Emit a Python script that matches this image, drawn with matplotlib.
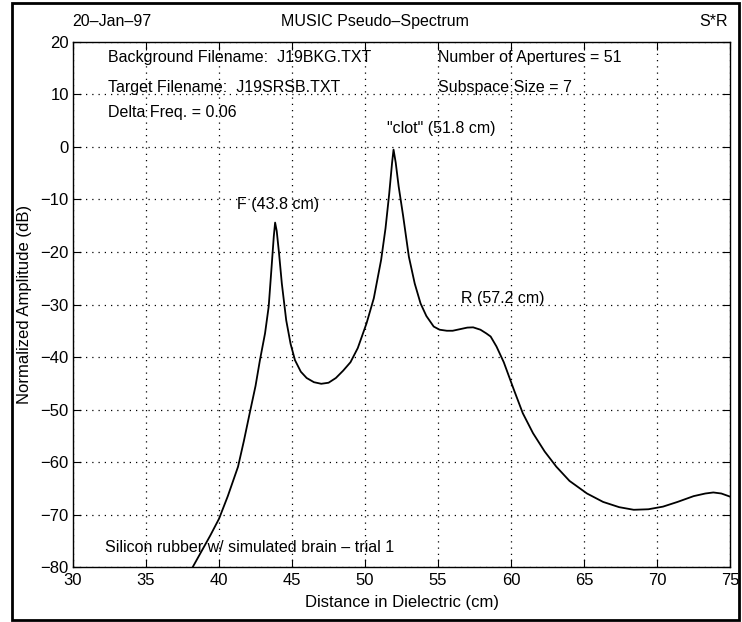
import matplotlib
matplotlib.use('Agg')
import matplotlib.pyplot as plt
from matplotlib.patches import Rectangle

# values
distance = [38.2, 38.8, 39.4, 40.0, 40.6, 41.3, 41.7, 42.1, 42.5, 42.8, 43.15, 43.4, 43.6, 43.75, 43.84,
            43.95, 44.1, 44.3, 44.6, 44.9, 45.2, 45.6, 46.0, 46.5, 47.0, 47.5, 48.0, 48.5, 49.0, 49.5,
            50.1, 50.6, 51.1, 51.4, 51.65, 51.85, 51.95, 52.1, 52.3, 52.6, 53.0, 53.4, 53.8, 54.2,
            54.7, 55.1, 55.6, 56.0, 56.5, 57.0, 57.4, 57.9, 58.3, 58.6, 59.0, 59.5, 60.2, 60.8, 61.5,
            62.3, 63.1, 64.0, 65.2, 66.3, 67.4, 68.4, 69.4, 70.4, 71.4, 72.5, 73.3, 73.85, 74.4, 75.0]
amplitude = [-80.0, -77.0, -74.0, -70.8, -66.5, -60.9, -56.0, -50.7, -45.5, -40.6, -35.5, -30.4, -22.8, -17.0, -14.4,
             -16.0, -20.0, -26.0, -33.0, -37.5, -40.6, -42.8, -44.0, -44.8, -45.1, -44.9, -44.0, -42.6, -41.0, -38.3,
             -33.6, -28.8, -21.5, -15.5, -9.0, -3.0, -0.5, -3.0, -7.5, -13.0, -20.9, -26.0, -29.8, -32.2,
             -34.2, -34.8, -35.0, -35.0, -34.7, -34.4, -34.35, -34.8, -35.5, -36.1, -38.0, -41.0, -46.3, -50.7, -54.5,
             -58.0, -60.9, -63.6, -66.0, -67.6, -68.6, -69.1, -69.0, -68.5, -67.6, -66.5, -66.0, -65.8, -66.0, -66.6]

header_left = '20\u2013Jan\u201397'
header_title = 'MUSIC Pseudo\u2013Spectrum'
header_right = 'S*R'

info_left = ['Background Filename:  J19BKG.TXT', 'Target Filename:  J19SRSB.TXT', 'Delta Freq. = 0.06']
info_right = ['Number of Apertures = 51', 'Subspace Size = 7']
peak_labels = [('F (43.8 cm)', 41.2, -11.0), ('"clot" (51.8 cm)', 51.5, 3.6), ('R (57.2 cm)', 56.6, -28.8)]
note = 'Silicon rubber w/ simulated brain \u2013 trial 1'

plt.rcParams['font.family'] = ['Liberation Sans', 'DejaVu Sans']
plt.rcParams['font.size'] = 11.5

fig = plt.figure(figsize=(7.42, 6.22), dpi=100)
ax = fig.add_axes([0.0984, 0.0884, 0.8856, 0.8441])

ax.plot(distance, amplitude, color='black', lw=1.3)
ax.set_xlim(30, 75)
ax.set_ylim(-80, 20)
ax.set_xticks(range(30, 76, 5))
ax.set_yticks(range(-80, 21, 10))
ax.grid(True, color='black', linestyle=(0, (1, 4)), linewidth=0.9)
ax.tick_params(direction='in', top=True, right=True, length=6, labelsize=12)
ax.tick_params(axis='x', pad=4)
ax.tick_params(axis='y', pad=3)
for s in ax.spines.values():
    s.set_linewidth(1.0)

ax.set_xlabel('Distance in Dielectric (cm)', fontsize=12, labelpad=5)
ax.set_ylabel('Normalized Amplitude (dB)', fontsize=12, labelpad=6)

for i, t in enumerate(info_left):
    ax.text(32.4, [16.95, 11.4, 6.5][i], t, va='center', ha='left')
for i, t in enumerate(info_right):
    ax.text(55.0, [16.95, 11.4][i], t, va='center', ha='left')
for t, x, y in peak_labels:
    ax.text(x, y, t, va='center', ha='left')
ax.text(32.2, -76.2, note, va='center', ha='left')

fig.text(0.098, 0.965, header_left, ha='left', va='center')
fig.text(0.505, 0.965, header_title, ha='center', va='center')
fig.text(0.981, 0.965, header_right, ha='right', va='center')

# frame around the whole figure
fig.patches.append(Rectangle((0.016, 0.004), 0.98, 0.991, transform=fig.transFigure,
                             fill=False, edgecolor='black', linewidth=2))

fig.savefig('out.png', dpi=100)
